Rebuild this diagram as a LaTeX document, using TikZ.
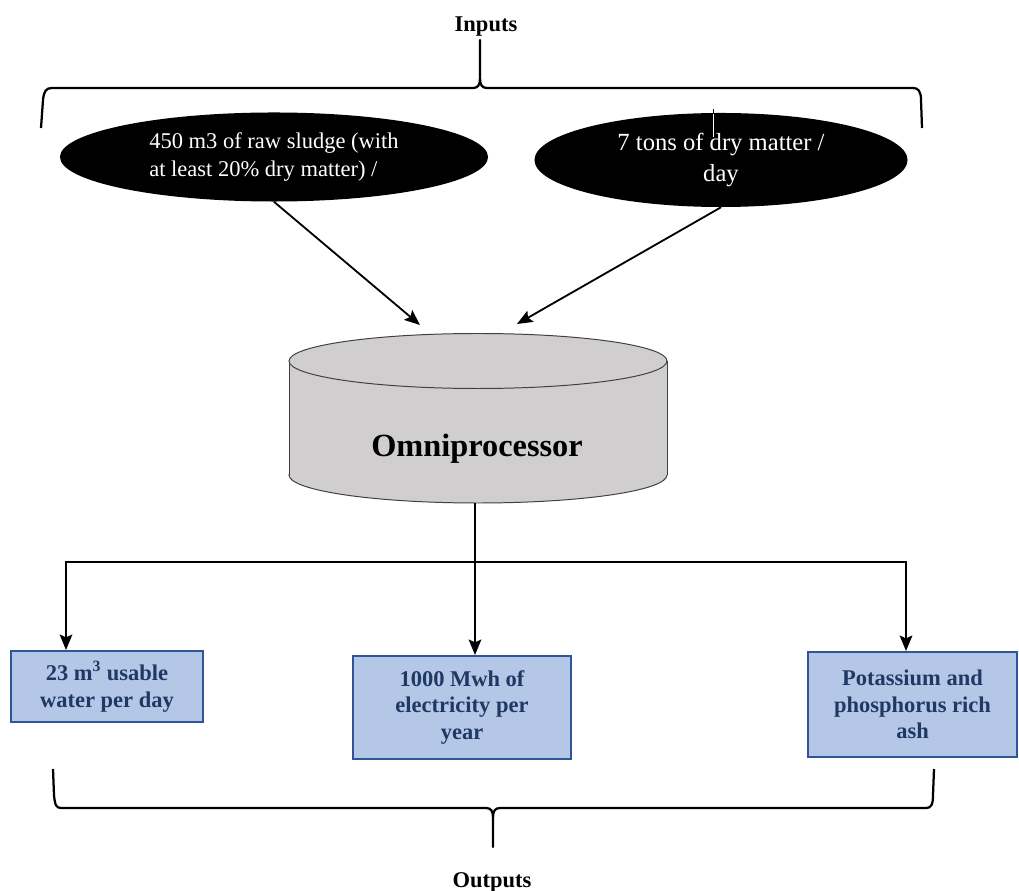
\documentclass[tikz,border=0pt]{standalone}
\usepackage{fontspec}
\setmainfont{Liberation Serif}
\usetikzlibrary{arrows.meta,shapes.geometric}

\definecolor{boxfill}{HTML}{B4C7E7}
\definecolor{boxline}{HTML}{2F5597}
\definecolor{boxtext}{HTML}{1F3864}
\definecolor{cylfill}{HTML}{D0CECE}
\definecolor{cylline}{HTML}{404040}

\begin{document}
\begin{tikzpicture}[x=0.025cm,y=-0.025cm,
        arr/.style={line width=1.3pt,-{Stealth[length=11pt,width=9pt,inset=2pt]}},%arrows between parts
        brace/.style={line width=1.6pt,line join=round},
        inputell/.style={ellipse,fill=black,text=white,inner sep=0pt},
        outbox/.style={rectangle,draw=boxline,line width=1.4pt,fill=boxfill,text=boxtext,
                       align=center,inner sep=0pt,font=\fontsize{16}{19}\selectfont\bfseries},
        lbl/.style={anchor=base,inner sep=0pt,font=\fontsize{16}{19}\selectfont\bfseries}
        ]
\useasboundingbox (0,0) rectangle (1019,891);

% labels
\node[lbl] (inputs) at (486,32) {Inputs};
\node[lbl] (outputs) at (492,887) {Outputs};

% top brace
\draw[brace] (41,128) -- (43,100) .. controls (44,91) and (46,88) .. (52,88) -- (473,88)
    .. controls (478,88) and (480,85) .. (480,78) -- (480,40) -- (480,78)
    .. controls (480,85) and (482,88) .. (487,88) -- (913,88)
    .. controls (918,88) and (921,91) .. (921,100) -- (922,128);

% input ellipses
\node[inputell,minimum width=10.7cm,minimum height=2.225cm,align=left,
      font=\fontsize{16}{20}\selectfont] (sludge) at (274,157)
      {450 m3 of raw sludge (with\\at least 20\% dry matter) /};
\node[inputell,minimum width=9.325cm,minimum height=2.35cm,align=center,
      font=\fontsize{17.5}{22.5}\selectfont] (drymatter) at (721,160)
      {7 tons of dry matter /\\day};
\draw[line width=0.6pt] (713,109) -- (713,114);
\draw[white,line width=0.6pt] (713,114) -- (713,137);

% processor
\draw[cylline,line width=0.7pt,fill=cylfill] (478,475) ellipse [x radius=189,y radius=28];
\fill[cylfill] (289,361) rectangle (667,475);
\draw[cylline,line width=0.7pt] (289,361) -- (289,475) (667,361) -- (667,475);
\draw[cylline,line width=0.7pt,fill=cylfill] (478,361) ellipse [x radius=189,y radius=27.5];
\node[anchor=base,inner sep=0pt,font=\fontsize{23}{27}\selectfont\bfseries] (omni) at (477,457) {Omniprocessor};
\coordinate (in1) at (420,325);
\coordinate (in2) at (517,324);
\coordinate (cylbot) at (475,503);

\draw[arr] (sludge.south) -- (in1);
\draw[arr] (drymatter.south) -- (in2);

% output boxes
\node[outbox,minimum width=4.8cm,minimum height=1.775cm] (water) at (107,686.5)
      {23 m\textsuperscript{3} usable\\water per day};
\node[outbox,minimum width=5.45cm,minimum height=2.575cm] (power) at (462,707.5)
      {1000 Mwh of\\electricity per\\year};
\node[outbox,minimum width=5.225cm,minimum height=2.625cm] (ash) at (912.5,704.5)
      {Potassium and\\phosphorus rich\\ash};

\coordinate (tapL) at (66,562);
\coordinate (tapR) at (906,562);
\draw[arr] (cylbot) -- (cylbot |- power.north);
\draw[line width=1.3pt,{Stealth[length=11pt,width=9pt,inset=2pt]}-{Stealth[length=11pt,width=9pt,inset=2pt]}]
      (tapL |- water.north) -- (tapL) -- (tapR) -- (tapR |- ash.north);

% bottom brace
\draw[brace] (53,769) -- (54,795) .. controls (55,805) and (56,808) .. (61,808) -- (486,808)
    .. controls (491,808) and (493,811) .. (493,818) -- (493,847) -- (493,818)
    .. controls (493,811) and (495,808) .. (500,808) -- (926,808)
    .. controls (931,808) and (933,805) .. (933,795) -- (934,769);
\end{tikzpicture}
\end{document}
